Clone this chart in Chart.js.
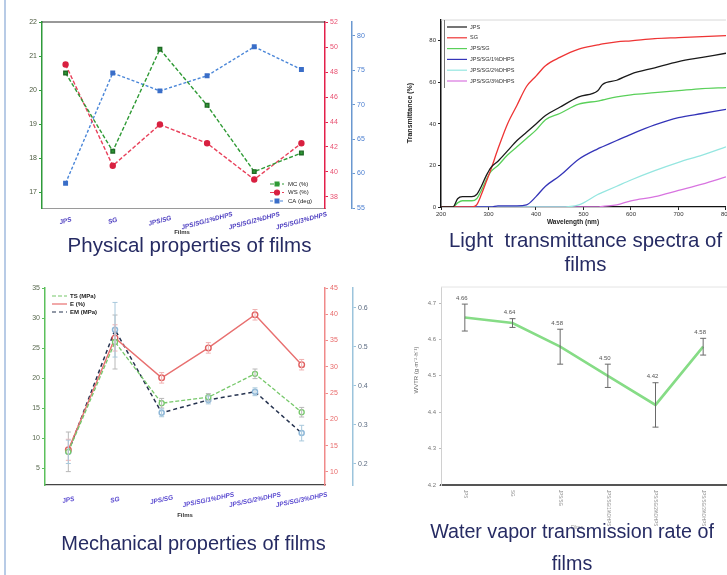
<!DOCTYPE html>
<html><head><meta charset="utf-8">
<script src="https://cdn.jsdelivr.net/npm/chart.js@4/dist/chart.umd.min.js"></script>
<style>
html,body{margin:0;padding:0;background:#fff;width:727px;height:575px;overflow:hidden;position:relative;font-family:"Liberation Sans",Arial,sans-serif;}
canvas{position:absolute;}
.t{position:absolute;color:#262b63;text-align:center;white-space:nowrap;width:400px;}
</style></head><body>
<div style="position:absolute;left:4px;top:0;width:2px;height:575px;background:#b8cbe6"></div>
<canvas id="c1" width="372" height="240" style="left:0;top:0"></canvas>
<canvas id="c2" width="360" height="230" style="left:372px;top:0"></canvas>
<canvas id="c3" width="380" height="255" style="left:0;top:270px"></canvas>
<canvas id="c4" width="360" height="265" style="left:380px;top:270px"></canvas>
<div class="t" style="left:-10.5px;top:234.6px;font-size:20.5px;line-height:20.5px">Physical properties of films</div>
<div class="t" style="left:385.5px;top:229.7px;font-size:20.4px;line-height:20.4px">Light&nbsp; transmittance spectra of</div>
<div class="t" style="left:385.5px;top:253.7px;font-size:20.4px;line-height:20.4px">films</div>
<div class="t" style="left:-6.5px;top:533px;font-size:20px;line-height:20px">Mechanical properties of films</div>
<div class="t" style="left:372px;top:522.3px;font-size:19.7px;line-height:19.7px">Water vapor transmission rate of</div>
<div class="t" style="left:372px;top:554.3px;font-size:19.7px;line-height:19.7px">films</div>
<script>
// ---------- data ----------
const films = ["JPS","SG","JPS/SG","JPS/SG/1%DHPS","JPS/SG/2%DHPS","JPS/SG/3%DHPS"];
// Physical properties
const mcValues = [20.5, 18.2, 21.2, 19.55, 17.6, 18.15];
const wsValues = [48.6, 40.5, 43.8, 42.3, 39.4, 42.3];
const caValues = [58.6, 74.6, 72.0, 74.2, 78.4, 75.1];
const mcTicks = [17,18,19,20,21,22];
const wsTicks = [38,40,42,44,46,48,50,52];
const caTicks = [55,60,65,70,75,80];
// Light transmittance
const wavelengths = [200,225,235,245,265,275,285,295,305,320,340,360,380,400,420,450,490,530,540,570,600,650,700,750,800];
const tJPS   = [0,0,4,5,5,6,10,15,19,22,27,32,36,40,44,48,53,56,59,61,64,67,70,72,74];
const tSG    = [0,0,0,0,0,1,6,12,18,28,40,49,58,63,68,72,76,78,78.5,79.5,80,81,81.5,82,82.5];
const tJPSSG = [0,0,2,3,3,4,8,13,17,20,25,29,33,37,42,45,49.5,51,51.5,53,54,55,56,57,57.5];
const tD1    = [0,0,0,0,0,0,0,0,0,0.5,0.5,0.5,1,5,10,15,23,28,29,32,35,39.5,43,45,47];
const tD2    = [0,0,0,0,0,0,0,0,0,0,0,0,0,0,0,0,1,6,7,10,13,17.5,21.5,25,29];
const tD3    = [0,0,0,0,0,0,0,0,0,0,0,0,0,0,0,0,0,0,0.3,1,3,5,8,11,14.5];
const specLabels = ["JPS","SG","JPS/SG","JPS/SG/1%DHPS","JPS/SG/2%DHPS","JPS/SG/3%DHPS"];
const wlTicks = [200,300,400,500,600,700,800];
const trTicks = [0,20,40,60,80];
// Mechanical properties
const tsValues = [7.7, 26.0, 15.8, 16.8, 20.7, 14.3];
const tsErr    = [3.3, 4.5, 0.8, 0.6, 0.8, 0.8];
const eValues  = [14.2, 35.5, 27.9, 33.6, 39.9, 30.4];
const eErr     = [2.0, 2.5, 1.0, 1.0, 1.0, 1.0];
const emValues = [0.231, 0.544, 0.331, 0.364, 0.385, 0.279];
const emErr    = [0.03, 0.07, 0.01, 0.01, 0.01, 0.02];
const tsTicks = [5,10,15,20,25,30,35];
const eTicks  = [10,15,20,25,30,35,40,45];
const emTicks = [0.2,0.3,0.4,0.5,0.6];
// Water vapor transmission
const wvtrValues = [4.66, 4.645, 4.58, 4.50, 4.42, 4.58];
const wvtrErr    = [0.037, 0.012, 0.048, 0.032, 0.061, 0.023];
const wvtrTicks  = [4.2,4.3,4.4,4.5,4.6,4.7];

// ---------- helpers ----------
Chart.defaults.font.family = "'Liberation Sans', Arial, sans-serif";
Chart.defaults.animation = false;
const FF = "'Liberation Sans', Arial, sans-serif";
const tickSet = arr => (s => { s.ticks = arr.map(v => ({value:v})); });

function decor(cfg){
  return { id:'decor', afterDraw(chart){
    const ctx = chart.ctx, ca = chart.chartArea, xs = chart.scales.x;
    ctx.save();
    if (cfg.frame) cfg.frame.forEach(f => {
      ctx.strokeStyle = f.color; ctx.lineWidth = f.w;
      ctx.beginPath();
      if (f.side === 'top'){ ctx.moveTo(ca.left, ca.top); ctx.lineTo(ca.right, ca.top); }
      if (f.side === 'vline'){ ctx.moveTo(f.x, f.y1); ctx.lineTo(f.x, f.y2); }
      ctx.stroke();
    });
    if (cfg.xl){
      const L = cfg.xl; ctx.font = L.font; ctx.fillStyle = L.color;
      chart.data.labels.forEach((lab,i) => {
        const px = xs.getPixelForValue(i);
        ctx.save(); ctx.translate(px + (L.dx||0), ca.bottom + L.dy); ctx.rotate(L.rot*Math.PI/180);
        ctx.textAlign = L.align || 'center'; ctx.textBaseline = 'middle'; ctx.fillText(lab, 0, 0); ctx.restore();
      });
    }
    (cfg.texts||[]).forEach(t => {
      ctx.save(); ctx.font = t.font; ctx.fillStyle = t.color; ctx.textAlign = 'center'; ctx.textBaseline = 'middle';
      ctx.translate(t.x, t.y); if (t.rot) ctx.rotate(t.rot*Math.PI/180); ctx.fillText(t.text, 0, 0); ctx.restore();
    });
    ctx.restore();
  }};
}
function legendBox(cfg){
  return { id:'legendBox', afterDraw(chart){
    const ctx = chart.ctx; ctx.save();
    ctx.font = cfg.font; ctx.textBaseline = 'middle'; ctx.textAlign = 'left';
    chart.data.datasets.forEach((ds,i) => {
      const y = cfg.y + i*cfg.dy;
      ctx.strokeStyle = ds.borderColor; ctx.lineWidth = cfg.lw || 1.2; ctx.setLineDash(ds.borderDash || []);
      ctx.beginPath(); ctx.moveTo(cfg.x, y); ctx.lineTo(cfg.x + cfg.len, y); ctx.stroke(); ctx.setLineDash([]);
      if (cfg.markers && ds.pointRadius > 0){
        const mx = cfg.x + cfg.len/2, r = ds.pointRadius;
        ctx.fillStyle = ds.pointBackgroundColor; ctx.strokeStyle = ds.pointBorderColor || ds.borderColor;
        if (ds.pointStyle === 'rect'){ ctx.fillRect(mx-r, y-r, 2*r, 2*r); }
        else { ctx.beginPath(); ctx.arc(mx, y, r, 0, Math.PI*2); ctx.fill(); ctx.stroke(); }
      }
      ctx.fillStyle = cfg.color; ctx.fillText(ds.label, cfg.x + cfg.len + cfg.gap, y);
    });
    ctx.restore();
  }};
}
function errBars(cfg){
  return { id:'errBars', afterDatasetsDraw(chart){
    const ctx = chart.ctx; ctx.save();
    chart.data.datasets.forEach((ds,di) => {
      const err = cfg.errors[di]; if (!err) return;
      const meta = chart.getDatasetMeta(di), ys = chart.scales[meta.yAxisID];
      ctx.strokeStyle = cfg.colors[di]; ctx.lineWidth = cfg.lw || 1;
      meta.data.forEach((pt,i) => {
        const v = ds.data[i], e = err[i];
        const y1 = ys.getPixelForValue(v + e), y2 = ys.getPixelForValue(v - e);
        ctx.beginPath();
        ctx.moveTo(pt.x, y1); ctx.lineTo(pt.x, y2);
        ctx.moveTo(pt.x - cfg.cap, y1); ctx.lineTo(pt.x + cfg.cap, y1);
        ctx.moveTo(pt.x - cfg.cap, y2); ctx.lineTo(pt.x + cfg.cap, y2);
        ctx.stroke();
        if (cfg.values){
          ctx.fillStyle = cfg.valueColor; ctx.font = cfg.valueFont; ctx.textAlign = 'center'; ctx.textBaseline = 'bottom';
          ctx.fillText(v.toFixed(2), pt.x - 3, y1 - 3);
        }
      });
    });
    ctx.restore();
  }};
}
function yAxis(pos, min, max, ticks, color, labColor, width, extra){
  return Object.assign({
    type:'linear', axis:'y', position:pos, min, max, afterBuildTicks: tickSet(ticks),
    ticks:{color:labColor, font:{size:7}, padding:2},
    grid:{drawOnChartArea:false, color:color, tickLength:3},
    border:{color:color, width:1.5},
    afterFit(s){ s.width = width; }
  }, extra||{});
}

// ---------- Panel 1: physical properties ----------
new Chart(document.getElementById('c1'), {
  type:'line',
  data:{ labels: films, datasets:[
    {label:'MC (%)', data: mcValues, yAxisID:'y', borderColor:'#2f9a35', backgroundColor:'#2f9a35', borderWidth:1.4, borderDash:[4,2],
     pointStyle:'rect', pointRadius:2.5, pointBackgroundColor:'#2f9a35', pointBorderColor:'#1f6a25'},
    {label:'WS (%)', data: wsValues, yAxisID:'yR', borderColor:'#e8405a', backgroundColor:'#e8405a', borderWidth:1.4, borderDash:[4,2],
     pointStyle:'circle', pointRadius:2.5, pointBackgroundColor:'#d82040', pointBorderColor:'#d82040'},
    {label:'CA (deg)', data: caValues, yAxisID:'yB', borderColor:'#4a86d8', backgroundColor:'#4a86d8', borderWidth:1.4, borderDash:[3,2],
     pointStyle:'rect', pointRadius:2.5, pointBackgroundColor:'#3a6ec8', pointBorderColor:'#3a6ec8'}
  ]},
  options:{
    responsive:false, devicePixelRatio:1, events:[],
    layout:{autoPadding:false, padding:{left:12, right:0, top:22, bottom:0}},
    plugins:{legend:{display:false}, tooltip:{enabled:false}},
    scales:{
      x:{type:'category', offset:true, grid:{display:false, drawTicks:false}, ticks:{display:false},
         border:{color:'#9a9a9a', width:1}, afterFit(s){ s.height = 32; }},
      y: yAxis('left', 16.53, 22, mcTicks, '#2e9a3a', '#4d5a40', 30),
      yR: yAxis('right', 37.12, 52, wsTicks, '#e3204a', '#e85070', 27),
      yB: yAxis('right', 55.0, 82.0, caTicks, '#6a98d0', '#4a7ed0', 20)
    }
  },
  plugins:[
    decor({frame:[{side:'top', color:'#333', w:1}],
           xl:{font:"italic bold 6.5px "+FF, color:'#4b3cc0', dy:13, rot:-15},
           texts:[{text:'Films', x:182, y:232, font:"bold 6px "+FF, color:'#333'}]}),
    legendBox({x:270, y:184, dy:8.5, len:14, gap:4, font:"6px "+FF, color:'#222', markers:true, lw:1.2})
  ]
});

// ---------- Panel 2: light transmittance ----------
const specData = [tJPS, tSG, tJPSSG, tD1, tD2, tD3];
const specColors = ['#1a1a1a','#ee3434','#5ad05a','#3434b8','#95e6e0','#d874e0'];
new Chart(document.getElementById('c2'), {
  type:'line',
  data:{ datasets: specLabels.map((lab,k) => ({
    label: lab, data: wavelengths.map((w,i) => ({x:w, y:specData[k][i]})),
    borderColor: specColors[k], borderWidth: 1.3, pointRadius:0, cubicInterpolationMode:'monotone'
  }))},
  options:{
    responsive:false, devicePixelRatio:1, events:[],
    layout:{autoPadding:false, padding:{left:49, right:5, top:20, bottom:0}},
    plugins:{legend:{display:false}, tooltip:{enabled:false}},
    scales:{
      x:{type:'linear', min:200, max:800, afterBuildTicks: tickSet(wlTicks),
         ticks:{color:'#333', font:{size:6}, padding:1},
         grid:{drawOnChartArea:false, color:'#222', tickLength:3},
         border:{color:'#111', width:1.2}, afterFit(s){ s.height = 23; }},
      y:{type:'linear', min:0, max:90, afterBuildTicks: tickSet(trTicks),
         ticks:{color:'#333', font:{size:6}, padding:2},
         grid:{drawOnChartArea:false, color:'#222', tickLength:3},
         border:{color:'#111', width:1.5}, afterFit(s){ s.width = 20; }}
    }
  },
  plugins:[
    decor({frame:[{side:'top', color:'#d8d8d8', w:1}, {side:'vline', x:72.5, y1:20, y2:88, color:'#777', w:1}],
           texts:[{text:'Transmittance (%)', x:38, y:113, rot:-90, font:"bold 7px "+FF, color:'#222'},
                  {text:'Wavelength (nm)', x:201, y:222, font:"bold 6.5px "+FF, color:'#222'}]}),
    legendBox({x:75, y:27, dy:10.8, len:20, gap:3, font:"5.5px "+FF, color:'#333', lw:1.2})
  ]
});

// ---------- Panel 3: mechanical properties ----------
new Chart(document.getElementById('c3'), {
  type:'line',
  data:{ labels: films, datasets:[
    {label:'TS (MPa)', data: tsValues, yAxisID:'y', borderColor:'#76c86a', borderWidth:1.3, borderDash:[4,2],
     pointStyle:'circle', pointRadius:2.5, pointBackgroundColor:'#fff', pointBorderColor:'#76c86a'},
    {label:'E (%)', data: eValues, yAxisID:'yR', borderColor:'#e87070', borderWidth:1.4,
     pointStyle:'circle', pointRadius:2.8, pointBackgroundColor:'#fff', pointBorderColor:'#e06060'},
    {label:'EM (MPa)', data: emValues, yAxisID:'yB', borderColor:'#25324f', borderWidth:1.5, borderDash:[4,3],
     pointStyle:'circle', pointRadius:2.5, pointBackgroundColor:'#fff', pointBorderColor:'#8fb8d8'}
  ]},
  options:{
    responsive:false, devicePixelRatio:1, events:[],
    layout:{autoPadding:false, padding:{left:15, right:0, top:18, bottom:0}},
    plugins:{legend:{display:false}, tooltip:{enabled:false}},
    scales:{
      x:{type:'category', offset:true, grid:{display:false, drawTicks:false}, ticks:{display:false},
         border:{color:'#444', width:1.2}, afterFit(s){ s.height = 40; }},
      y: yAxis('left', 2.17, 35, tsTicks, '#5cc05c', '#5a6a50', 30),
      yR: yAxis('right', 7.5, 45, eTicks, '#f08a8a', '#e86a6a', 28),
      yB: yAxis('right', 0.146, 0.651, emTicks, '#9cc4dc', '#5a6a80', 27)
    }
  },
  plugins:[
    errBars({errors:[tsErr, eErr, emErr], colors:['#b8b8b8','#f0b0b0','#a8c8dc'], cap:2.5, lw:1}),
    decor({xl:{font:"italic bold 6.5px "+FF, color:'#5a4ad0', dy:15, rot:-12},
           texts:[{text:'Films', x:185, y:245, font:"bold 6px "+FF, color:'#333'}]}),
    legendBox({x:52, y:26, dy:8, len:15, gap:3, font:"bold 6px "+FF, color:'#222', lw:1.2})
  ]
});

// ---------- Panel 4: water vapor transmission rate ----------
new Chart(document.getElementById('c4'), {
  type:'line',
  data:{ labels: films, datasets:[
    {label:'WVTR', data: wvtrValues, borderColor:'#86dc86', borderWidth:2.6, pointRadius:0, tension:0}
  ]},
  options:{
    responsive:false, devicePixelRatio:1, events:[],
    layout:{autoPadding:false, padding:{left:31, right:13, top:17, bottom:0}},
    plugins:{legend:{display:false}, tooltip:{enabled:false}},
    scales:{
      x:{type:'category', offset:true, grid:{display:false, drawTicks:false}, ticks:{display:false},
         border:{color:'#555', width:2}, afterFit(s){ s.height = 50; }},
      y:{type:'linear', min:4.2, max:4.744, afterBuildTicks: tickSet(wvtrTicks),
         ticks:{color:'#777', font:{size:6}, padding:3, callback:v => v.toFixed(1)},
         grid:{drawOnChartArea:false, color:'#bbb', tickLength:2},
         border:{color:'#d0d0d0', width:1}, afterFit(s){ s.width = 30; }}
    }
  },
  plugins:[
    errBars({errors:[wvtrErr], colors:['#6a6a6a'], cap:3, lw:1, values:true, valueColor:'#555', valueFont:"6px "+FF}),
    decor({frame:[{side:'top', color:'#e4e4e4', w:1}],
           xl:{font:"4.5px "+FF, color:'#8a8a8a', dy:5, rot:90, align:'left'},
           texts:[{text:'WVTR (g·m⁻²·h⁻¹)', x:36, y:100, rot:-90, font:"6px "+FF, color:'#666'},
                  {text:'Films', x:197, y:258, font:"5px "+FF, color:'#999'}]})
  ]
});
</script>
</body></html>
